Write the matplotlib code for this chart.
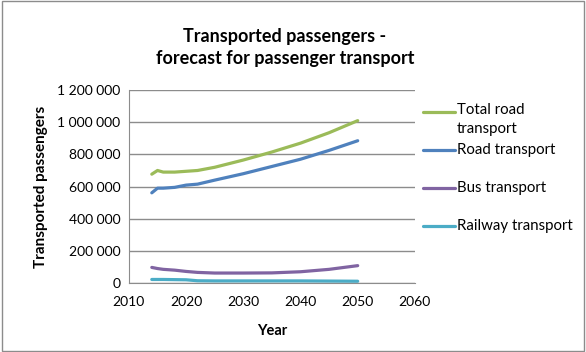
import matplotlib
matplotlib.use("Agg")
import matplotlib.pyplot as plt
from matplotlib.lines import Line2D
from matplotlib.patches import Rectangle
from matplotlib.ticker import FuncFormatter

plt.rcParams['font.family'] = ['Lato', 'DejaVu Sans']

years = [2014, 2015, 2016, 2018, 2020, 2022, 2025, 2030, 2035, 2040, 2045, 2050]
total_road = [677000, 700000, 690000, 690000, 695000, 700000, 720000, 765000, 815000, 870000, 935000, 1010000]
road = [561000, 590000, 590000, 595000, 609000, 615000, 640000, 680000, 725000, 770000, 825000, 885000]
bus = [97000, 90000, 85000, 80000, 72000, 66000, 62000, 62000, 63000, 70000, 85000, 108000]
railway = [22000, 22000, 22000, 21000, 20000, 14000, 13000, 13000, 13000, 13000, 12000, 11000]

series = [
    ("Total road\ntransport", total_road, "#9BBB59"),
    ("Road transport", road, "#4F81BD"),
    ("Bus transport", bus, "#8064A2"),
    ("Railway transport", railway, "#4BACC6"),
]

fig = plt.figure(figsize=(5.86, 3.52), dpi=100)
ax = fig.add_axes([0.220, 0.196, 0.488, 0.548])

for label, vals, col in series:
    ax.plot(years, vals, color=col, lw=2.3, solid_capstyle='round')

ax.set_xlim(2010, 2060)
ax.set_ylim(0, 1200000)
ax.set_xticks(range(2010, 2061, 10))
ax.set_yticks(range(0, 1200001, 200000))
ax.yaxis.set_major_formatter(FuncFormatter(lambda v, p: f"{int(v):,}".replace(",", " ")))
ax.grid(axis='y', color='#8c8c8c', lw=1)
ax.set_axisbelow(True)
for s in ['top', 'right']:
    ax.spines[s].set_visible(False)
for s in ['left', 'bottom']:
    ax.spines[s].set_color('#8c8c8c')
ax.tick_params(length=0, labelsize=10, pad=6)
ax.tick_params(axis='x', pad=9)

ax.set_xlabel("Year", fontsize=10.5, fontweight='bold', labelpad=12)
ax.set_ylabel("Transported passengers", fontsize=11, fontweight='bold', labelpad=7)
fig.text(0.486, 0.865, "Transported passengers -\nforecast for passenger transport",
         ha='center', va='center', fontsize=13, fontweight='bold', linespacing=1.3)

# legend, drawn by hand like the Excel one
ly = [112, 150, 188, 226]
for (label, vals, col), y in zip(series, ly):
    yf = 1 - y / 352
    fig.add_artist(Line2D([423 / 586, 455 / 586], [yf, yf], color=col, lw=2.3,
                          solid_capstyle='round'))
    if '\n' in label:
        fig.text(457 / 586, yf + 0.026, label, ha='left', va='top', fontsize=10.8, linespacing=1.45)
    else:
        fig.text(457 / 586, yf, label, ha='left', va='center', fontsize=10.8)

fig.add_artist(Rectangle((0.004, 0.004), 0.992, 0.992, transform=fig.transFigure,
                         fill=False, edgecolor='#8c8c8c', lw=1))

fig.savefig("out.png", dpi=100)
